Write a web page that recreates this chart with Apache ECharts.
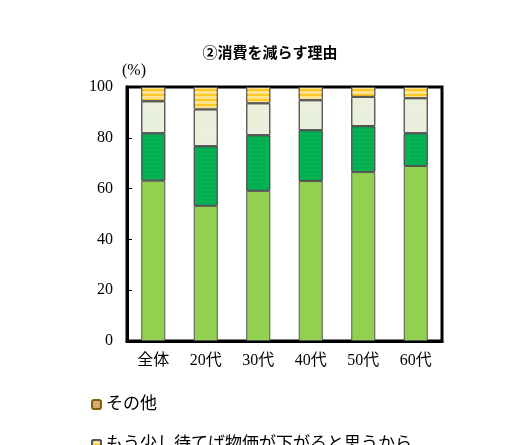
<!DOCTYPE html>
<html><head><meta charset="utf-8">
<script src="https://cdn.jsdelivr.net/npm/echarts@6/dist/echarts.min.js"></script>
<style>html,body{margin:0;padding:0;background:#fff}#c{width:516px;height:445px}</style>
</head><body><div id="c"></div>
<script>
const categories = ['全体','20代','30代','40代','50代','60代'];
const seriesNames = ['収入が減ったから','将来が不安だから','その他','もう少し待てば物価が下がると思うから'];
const s1 = [63.1, 53.2, 59.1, 63.0, 66.5, 68.9];
const s2 = [18.7, 23.5, 21.9, 20.0, 18.1, 12.9];
const s3 = [12.6, 14.5, 12.6, 11.8, 11.5, 13.8];
const s4 = [5.6, 8.8, 6.4, 5.2, 3.9, 4.4];
const yTicks = [0,20,40,60,80,100];

const font = '"Liberation Serif","Noto Sans CJK JP",serif';
const styles = [
  {color:'#92D050'},
  {color:'#00B050', decal:{symbol:'circle',symbolSize:0.3,color:'rgba(255,255,255,0.8)',dashArrayX:[1,0],dashArrayY:[4,0]}},
  {color:'#EBF1DE', decal:{symbol:'circle',symbolSize:0.3,color:'#9BBB59',dashArrayX:[1,0],dashArrayY:[3,0]}},
  {color:'#FFC000', decal:{symbol:'rect',symbolSize:0.7,color:'#FFF2CC',dashArrayX:[1,0],dashArrayY:[5,0]}}
];
const data = [s1,s2,s3,s4];
const legendText = {fontSize:17,fontFamily:font,color:'#000'};
const chart = echarts.init(document.getElementById('c'));
chart.setOption({
  animation:false,
  title:{text:'②消費を減らす理由',left:265,top:40,textAlign:'center',textStyle:{fontSize:15,fontWeight:'bold',fontFamily:'"Noto Sans CJK JP",sans-serif',color:'#000'}},
  graphic:[{type:'text',left:122,top:63,style:{text:'(%)',font:'16px '+font,fill:'#000'}}],
  legend:[
    {left:86,top:391,itemWidth:9,itemHeight:9,textStyle:legendText,
      data:[{name:'その他',itemStyle:{color:'#D9A877',decal:'none',borderColor:'#7F6000'}}]},
    {left:86,top:431,itemWidth:9,itemHeight:9,textStyle:legendText,
      data:['もう少し待てば物価が下がると思うから']}
  ],
  grid:{left:127,right:74,top:87,bottom:104,show:true,borderColor:'#000',borderWidth:3},
  xAxis:{type:'category',data:categories,axisLine:{lineStyle:{color:'#000',width:3}},axisTick:{show:false},
    axisLabel:{fontSize:16,fontFamily:font,color:'#000',margin:12}},
  yAxis:{type:'value',min:0,max:100,interval:20,axisLine:{show:true,lineStyle:{color:'#000',width:3}},
    axisTick:{show:true,inside:true,length:5,lineStyle:{color:'#000'}},splitLine:{show:false},
    axisLabel:{fontSize:16,fontFamily:font,color:'#000',margin:14,formatter:v=>yTicks.includes(v)?String(v):''}},
  series:seriesNames.map((n,i)=>({name:n,type:'bar',stack:'a',barWidth:24,data:data[i],
    itemStyle:Object.assign({borderColor:'#555',borderWidth:1},styles[i])}))
});
</script></body></html>
